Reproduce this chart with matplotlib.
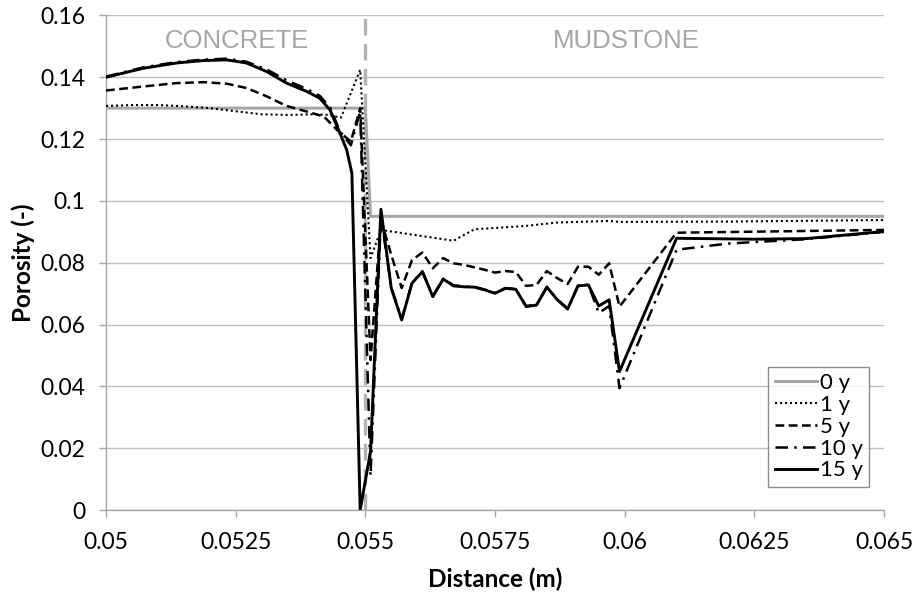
import matplotlib
matplotlib.use("Agg")
import matplotlib.pyplot as plt

# ---- data ----
x_0y = [0.0500, 0.0550, 0.0551, 0.0650]
por_0y = [0.130, 0.130, 0.095, 0.095]

x_1y = [0.0500, 0.0505, 0.0510, 0.0515, 0.0520, 0.0525, 0.0530, 0.0535, 0.0540, 0.0543,
        0.05453, 0.0549, 0.0551, 0.0553, 0.0567, 0.0571, 0.0581, 0.0587, 0.0597, 0.0599,
        0.0620, 0.0650]
por_1y = [0.1307, 0.1310, 0.1310, 0.1306, 0.1300, 0.1290, 0.1280, 0.1278, 0.1280, 0.1278,
          0.1269, 0.1424, 0.0815, 0.0906, 0.0871, 0.0908, 0.0919, 0.0930, 0.0935, 0.0932,
          0.0933, 0.0938]

x_5y = [0.0500, 0.05072, 0.05136, 0.05188, 0.05233, 0.05271, 0.0531, 0.05348, 0.05387, 0.0542,
        0.05445, 0.05472, 0.0549, 0.0551, 0.0553, 0.0555, 0.0557, 0.0559, 0.0561, 0.0563,
        0.0565, 0.0567, 0.0569, 0.0571, 0.0573, 0.0575, 0.0577, 0.0579, 0.0581, 0.0583,
        0.0585, 0.0587, 0.0589, 0.0591, 0.0593, 0.0595, 0.0597, 0.0599, 0.0610, 0.0650]
por_5y = [0.1357, 0.1370, 0.1381, 0.1384, 0.1379, 0.1365, 0.1338, 0.1307, 0.1289, 0.1273,
          0.1230, 0.1192, 0.1300, 0.0485, 0.0940, 0.0825, 0.0718, 0.0809, 0.0833, 0.0782,
          0.0815, 0.0798, 0.0793, 0.0785, 0.0777, 0.0768, 0.0773, 0.0770, 0.0725, 0.0728,
          0.0773, 0.0750, 0.0731, 0.0787, 0.0787, 0.0761, 0.0798, 0.0658, 0.0897, 0.0906]

x_10y = [0.0500, 0.05072, 0.05136, 0.05188, 0.05233, 0.05271, 0.0531, 0.05348, 0.05387, 0.05412,
         0.05432, 0.05451, 0.05472, 0.0549, 0.0551, 0.0553, 0.0555, 0.0557, 0.0559, 0.0561,
         0.0563, 0.0565, 0.0567, 0.0569, 0.0571, 0.0573, 0.0575, 0.0577, 0.0579, 0.0581,
         0.0583, 0.0585, 0.0587, 0.0589, 0.0591, 0.0593, 0.0595, 0.0597, 0.0599, 0.0610,
         0.0620, 0.0635, 0.0650]
por_10y = [0.1402, 0.1432, 0.1449, 0.1457, 0.1460, 0.1450, 0.1425, 0.1390, 0.1362, 0.1340,
           0.1302, 0.1225, 0.1180, 0.1290, 0.0110, 0.0950, 0.0720, 0.0617, 0.0736, 0.0772,
           0.0692, 0.0748, 0.0727, 0.0723, 0.0722, 0.0713, 0.0703, 0.0718, 0.0715, 0.0660,
           0.0664, 0.0722, 0.0681, 0.0652, 0.0726, 0.0729, 0.0637, 0.0660, 0.0394, 0.0842,
           0.0862, 0.0876, 0.0900]

x_15y = [0.0500, 0.05072, 0.05136, 0.05188, 0.05233, 0.05271, 0.0531, 0.05348, 0.05387, 0.05412,
         0.05432, 0.05451, 0.05464, 0.05474, 0.0549, 0.0551, 0.0553, 0.0555, 0.0557, 0.0559,
         0.0561, 0.0563, 0.0565, 0.0567, 0.0569, 0.0571, 0.0573, 0.0575, 0.0577, 0.0579,
         0.0581, 0.0583, 0.0585, 0.0587, 0.0589, 0.0591, 0.0593, 0.0595, 0.0597, 0.0599,
         0.0610, 0.0625, 0.0635, 0.0650]
por_15y = [0.1400, 0.1429, 0.1446, 0.1454, 0.1456, 0.1446, 0.1418, 0.1381, 0.1354, 0.1332,
           0.1294, 0.1219, 0.1165, 0.1090, 0.0000, 0.0190, 0.0973, 0.0717, 0.0615, 0.0734,
           0.0771, 0.0690, 0.0747, 0.0725, 0.0722, 0.0721, 0.0712, 0.0701, 0.0717, 0.0714,
           0.0658, 0.0663, 0.0721, 0.0680, 0.0650, 0.0725, 0.0728, 0.0660, 0.0680, 0.0448,
           0.0879, 0.0876, 0.0878, 0.0901]

interface_x = 0.055
x_ticks = [0.05, 0.0525, 0.055, 0.0575, 0.06, 0.0625, 0.065]
x_tick_labels = ["0.05", "0.0525", "0.055", "0.0575", "0.06", "0.0625", "0.065"]
y_ticks = [0, 0.02, 0.04, 0.06, 0.08, 0.1, 0.12, 0.14, 0.16]
y_tick_labels = ["0", "0.02", "0.04", "0.06", "0.08", "0.1", "0.12", "0.14", "0.16"]

fig = plt.figure(figsize=(9.18, 5.92), dpi=100)
ax = fig.add_axes([0.1155, 0.1385, 0.8475, 0.8355])

grey = "#a6a6a6"
ax.plot(x_0y, por_0y, color=grey, lw=2.2, label="0 y", zorder=3)
ax.plot(x_1y, por_1y, color="black", lw=1.5, linestyle=(0, (1, 1.4)), label="1 y", zorder=4)
ax.plot(x_5y, por_5y, color="black", lw=1.8, linestyle=(0, (3.5, 1.8)), label="5 y", zorder=4)
ax.plot(x_10y, por_10y, color="black", lw=1.8, linestyle=(0, (5, 2.5, 1, 2.5)), label="10 y", zorder=4)
ax.plot(x_15y, por_15y, color="black", lw=2.1, label="15 y", zorder=5)

# interface between concrete and mudstone
ax.axvline(interface_x, color="#b3b3b3", lw=2.4, linestyle=(0, (5, 2.5)), zorder=2)

ax.text(0.05252, 0.1518, "CONCRETE", color=grey, fontsize=18.5,
        family="Liberation Sans", ha="center", va="center")
ax.text(0.06004, 0.1518, "MUDSTONE", color=grey, fontsize=18.5,
        family="Liberation Sans", ha="center", va="center")

ax.set_xlim(0.05, 0.065)
ax.set_ylim(0, 0.16)
ax.set_xticks(x_ticks)
ax.set_xticklabels(x_tick_labels)
ax.set_yticks(y_ticks)
ax.set_yticklabels(y_tick_labels)

tick_font = "Lato"
for lab in ax.get_xticklabels() + ax.get_yticklabels():
    lab.set_family(tick_font)
    lab.set_fontsize(16.5)

ax.yaxis.grid(True, color="#bfbfbf", lw=1.0)
ax.set_axisbelow(True)
for s in ["top", "right"]:
    ax.spines[s].set_visible(False)
for s in ["left", "bottom"]:
    ax.spines[s].set_color("#a6a6a6")
    ax.spines[s].set_linewidth(1.0)
ax.tick_params(axis="both", color="#a6a6a6", length=5, width=1.0)
ax.tick_params(axis="y", pad=10)
ax.tick_params(axis="x", pad=11)

ax.set_xlabel("Distance (m)", family="Lato", fontweight="bold", fontsize=17.5, labelpad=10)
ax.set_ylabel("Porosity (-)", family="Lato", fontweight="bold", fontsize=17.5, labelpad=4)

leg = ax.legend(loc="lower right", bbox_to_anchor=(0.981, 0.0465), borderaxespad=0,
                prop={"family": "Lato", "size": 16}, handlelength=1.9, handletextpad=0.1,
                labelspacing=0.08, fancybox=False, frameon=True, borderpad=0.3)
leg.get_frame().set_edgecolor("#707070")
leg.get_frame().set_linewidth(1.0)

fig.savefig("out.png", dpi=100)
